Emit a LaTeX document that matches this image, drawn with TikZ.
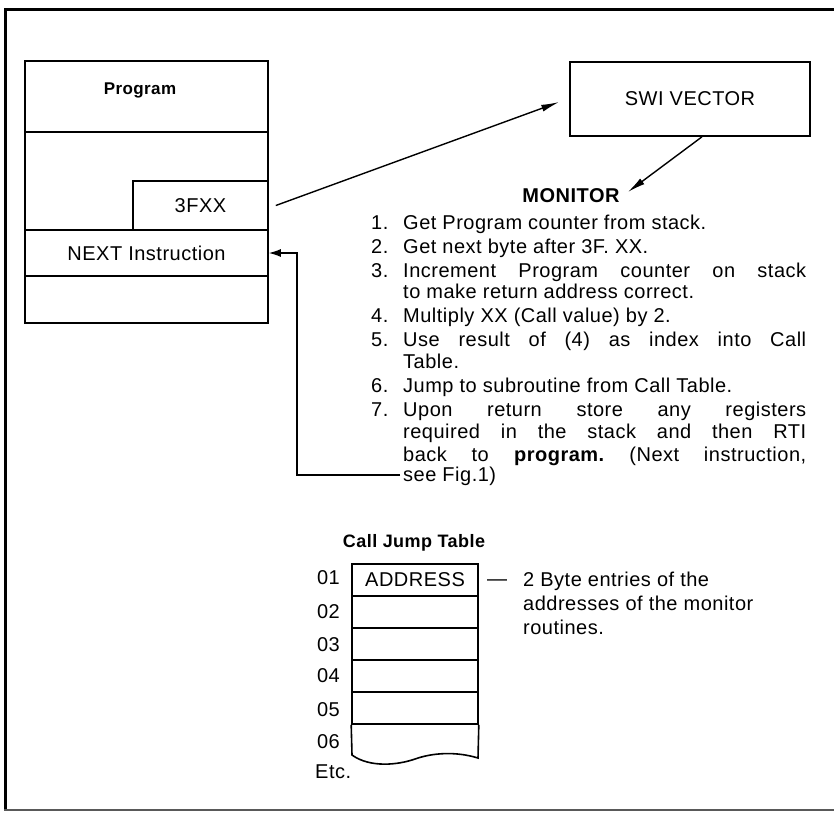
\documentclass[tikz,border=0pt]{standalone}
\usepackage{fontspec}
\setmainfont{Liberation Sans}[LetterSpace=2.5]
\usetikzlibrary{arrows.meta}
\frenchspacing
\begin{document}
\begin{tikzpicture}[x=1pt,y=-1pt,
  every node/.style={font=\fontsize{20}{24}\selectfont},
  box/.style={draw, line width=1.6pt, inner sep=0pt, rectangle},
  txt/.style={inner sep=0pt, anchor=base west},
  ttl/.style={inner sep=0pt, anchor=base},
  arr/.style={line width=1.4pt, -{Latex[length=18pt,width=7pt]}},
  retarr/.style={line width=1.4pt, -{Latex[length=12pt,width=8pt]}},
  lin/.style={line width=1.6pt}
  ]
\useasboundingbox (0,0) rectangle (834,814);
% frame
\draw[line width=3pt] (834,9) -- (5,9) -- (5,810);
\draw[line width=2pt, black!65] (4,810) -- (834,810);

% program box
\node[box, minimum width=243pt, minimum height=262pt] (prog) at (146.5,192) {};
\node[ttl, font={\fontsize{17}{20}\selectfont\bfseries}] (ptitle) at (140,94) {Program};
\draw[lin] (25,132) -- (268,132);
\node[box, minimum width=135pt, minimum height=49pt] (fx) at (200.5,205.5) {3FXX};
\node[box, minimum width=243pt, minimum height=46pt] (next) at (146.5,253) {NEXT Instruction};

% SWI vector
\node[box, minimum width=240pt, minimum height=74pt] (swi) at (690,99) {SWI VECTOR};
\node[ttl, font={\fontsize{20}{24}\selectfont\bfseries}] (mon) at (571,202) {MONITOR};

\draw[arr] ([xshift=7pt]fx.east) -- ([xshift=-10pt,yshift=-3pt]swi.west);
\draw[arr] ([xshift=12pt]swi.south) -- ([xshift=8pt,yshift=3pt]mon.east);

% monitor steps
\node[txt] (n1) at (371,229) {1.};
\node[txt] (l1) at (403,229) {Get Program counter from stack.};
\node[txt] (n2) at (371,253) {2.};
\node[txt] (l2) at (403,253) {Get next byte after 3F. XX.};
\node[txt] (n3) at (371,277) {3.};
\node[txt] (l3) at (403,277) {\makebox[403pt][s]{Increment Program counter on stack}};
\node[txt] (l3b) at (403,298) {to make return address correct.};
\node[txt] (n4) at (371,322) {4.};
\node[txt] (l4) at (403,322) {Multiply XX (Call value) by 2.};
\node[txt] (n5) at (371,346) {5.};
\node[txt] (l5) at (403,346) {\makebox[403pt][s]{Use result of (4) as index into Call}};
\node[txt] (l5b) at (403,368) {Table.};
\node[txt] (n6) at (371,392) {6.};
\node[txt] (l6) at (403,392) {Jump to subroutine from Call Table.};
\node[txt] (n7) at (371,416) {7.};
\node[txt] (l7) at (403,416) {\makebox[403pt][s]{Upon return store any registers}};
\node[txt] (l7b) at (403,438) {\makebox[403pt][s]{required in the stack and then RTI}};
\node[txt] (l7c) at (403,461) {\makebox[403pt][s]{back to \textbf{program.} (Next instruction,}};
\node[txt] (l7d) at (403,481) {see Fig.1)};

\coordinate (rc) at (297,475);
\draw[retarr] ([xshift=-3pt,yshift=6pt]l7d.base west) -- (rc) |- (next.east);

% call jump table
\node[ttl, font={\fontsize{18}{22}\selectfont\bfseries}] (cjt) at (414,547) {Call Jump Table};
\node[box, minimum width=126pt, minimum height=32pt] (r1) at (415,580) {ADDRESS};
\node[box, minimum width=126pt, minimum height=32pt] (r2) at (415,612) {};
\node[box, minimum width=126pt, minimum height=32pt] (r3) at (415,644) {};
\node[box, minimum width=126pt, minimum height=32pt] (r4) at (415,676) {};
\node[box, minimum width=126pt, minimum height=32pt] (r5) at (415,708) {};
\draw[lin] (r5.south west) -- (352,755) .. controls (370,768) and (398,765) .. (415,759)
  .. controls (432,753) and (455,751) .. (478,758) -- (r5.south east);

\node[txt, anchor=base east] (c1) at (340,584) {01};
\node[txt, anchor=base east] (c2) at (340,618) {02};
\node[txt, anchor=base east] (c3) at (340,651) {03};
\node[txt, anchor=base east] (c4) at (340,682) {04};
\node[txt, anchor=base east] (c5) at (340,716) {05};
\node[txt, anchor=base east] (c6) at (340,748) {06};
\node[txt] (etc) at (315,778) {Etc.};

\node[txt] (dash) at (487,585) {—};
\node[txt] (d1) at (523,586) {2 Byte entries of the};
\node[txt] (d2) at (523,610) {addresses of the monitor};
\node[txt] (d3) at (523,634) {routines.};
\end{tikzpicture}
\end{document}
